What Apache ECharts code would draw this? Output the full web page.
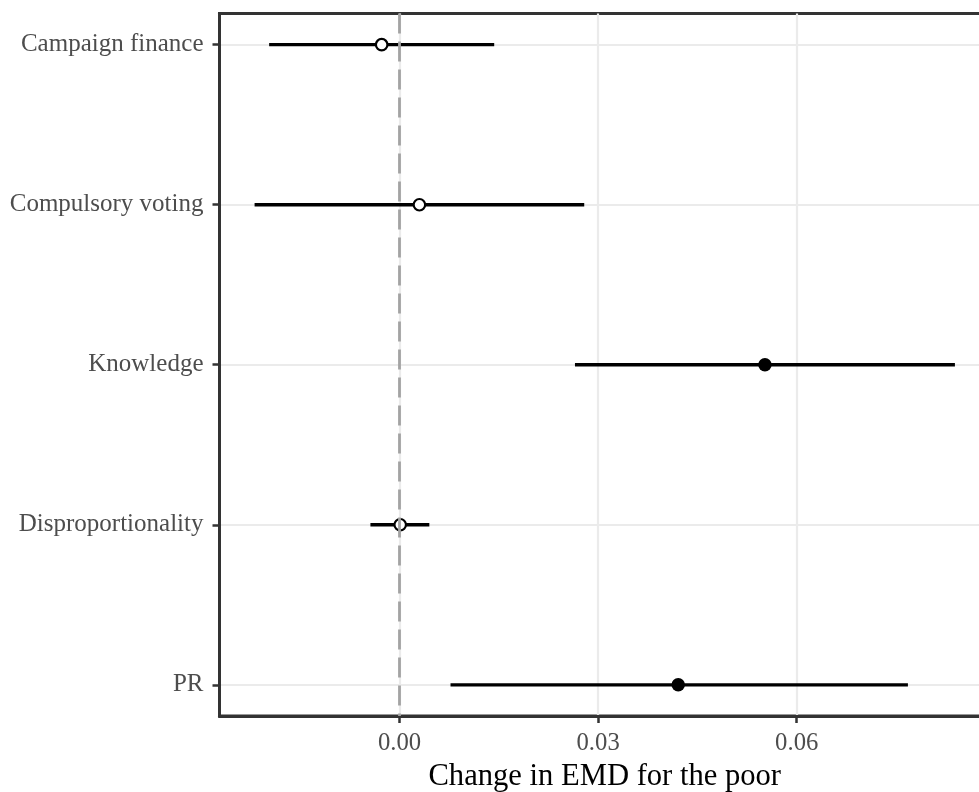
<!DOCTYPE html>
<html>
<head>
<meta charset="utf-8">
<script src="https://cdn.jsdelivr.net/npm/echarts@6/dist/echarts.min.js"></script>
<style>
  html, body { margin: 0; padding: 0; background: #ffffff; overflow: hidden; }
  /* the panel runs past the right edge of the window, so the canvas is a little wider */
  #chart { width: 996px; height: 792px; }
</style>
</head>
<body>
<div id="chart"></div>
<script>
// Institutional effects on the EMD of the poor: point estimate with confidence interval
const categories = ['Campaign finance', 'Compulsory voting', 'Knowledge', 'Disproportionality', 'PR'];
const estimate   = [-0.0027, 0.0030, 0.0552, 0.0001, 0.0421];
const lower      = [-0.0197, -0.0219, 0.0265, -0.0044, 0.0077];
const upper      = [0.0143, 0.0279, 0.0839, 0.0045, 0.0768];
const xTicks     = [0, 0.03, 0.06];
const xTitle     = 'Change in EMD for the poor';

const FONT = '"Liberation Serif", "DejaVu Serif", serif';
const rowIdx = categories.map((_, i) => i);

// an interval that excludes zero gets a filled marker
const isSignificant = (i) => lower[i] > 0 || upper[i] < 0;

const intervalData = rowIdx.map(i => [lower[i], upper[i], i]);
const filledPoints = rowIdx.filter(isSignificant).map(i => [estimate[i], i]);
const openPoints   = rowIdx.filter(i => !isSignificant(i)).map(i => [estimate[i], i]);

const chart = echarts.init(document.getElementById('chart'), null, { renderer: 'canvas' });

chart.setOption({
  animation: false,
  backgroundColor: '#ffffff',
  grid: {
    left: 219.5,
    top: 13.5,
    right: 6,
    bottom: 76,
    outerBoundsMode: 'none',
    containLabel: false,
    show: true,
    borderColor: '#333333',
    borderWidth: 3,
    backgroundColor: 'transparent'
  },
  xAxis: {
    type: 'value',
    min: -0.0272,
    max: 0.0892,
    axisLine: { show: true, onZero: false, lineStyle: { color: '#333333', width: 3 } },
    axisTick: { show: true, customValues: xTicks, length: 7, lineStyle: { color: '#333333', width: 2.5 } },
    axisLabel: {
      customValues: xTicks,
      formatter: v => v.toFixed(2),
      color: '#4d4d4d',
      fontFamily: FONT,
      fontSize: 24.7,
      margin: 15
    },
    splitLine: { show: true, lineStyle: { color: '#ebebeb', width: 2.2 } },
    name: xTitle,
    nameLocation: 'middle',
    nameGap: 45,
    nameTextStyle: { color: '#000000', fontFamily: FONT, fontSize: 30.6 }
  },
  yAxis: {
    type: 'value',
    inverse: true,
    min: -0.195,
    max: 4.195,
    axisLine: { show: true, onZero: false, lineStyle: { color: '#333333', width: 3 } },
    axisTick: { show: true, customValues: rowIdx, length: 7, lineStyle: { color: '#333333', width: 2.5 } },
    axisLabel: {
      customValues: rowIdx,
      formatter: v => categories[Math.round(v)] || '',
      color: '#4d4d4d',
      fontFamily: FONT,
      fontSize: 25,
      margin: 16
    },
    splitLine: { show: true, lineStyle: { color: '#ebebeb', width: 2.2 } }
  },
  series: [
    {
      // dashed reference line at zero
      type: 'line',
      data: [],
      z: 1,
      silent: true,
      markLine: {
        silent: true,
        symbol: ['none', 'none'],
        label: { show: false },
        lineStyle: { color: '#a3a3a3', width: 2.8, type: [20, 8], opacity: 1 },
        data: [{ xAxis: 0 }]
      }
    },
    {
      // confidence intervals
      type: 'custom',
      z: 2,
      silent: true,
      data: intervalData,
      encode: { x: [0, 1], y: 2 },
      renderItem: (params, api) => {
        const a = api.coord([api.value(0), api.value(2)]);
        const b = api.coord([api.value(1), api.value(2)]);
        return {
          type: 'line',
          shape: { x1: a[0], y1: a[1], x2: b[0], y2: b[1] },
          style: { stroke: '#000000', lineWidth: 3.3 }
        };
      }
    },
    {
      type: 'scatter',
      z: 3,
      silent: true,
      symbol: 'circle',
      symbolSize: 13.5,
      itemStyle: { color: '#000000', opacity: 1 },
      data: filledPoints
    },
    {
      type: 'scatter',
      z: 3,
      silent: true,
      symbol: 'circle',
      symbolSize: 11.5,
      itemStyle: { color: '#ffffff', borderColor: '#000000', borderWidth: 2.2, opacity: 1 },
      data: openPoints
    }
  ]
});
</script>
</body>
</html>
